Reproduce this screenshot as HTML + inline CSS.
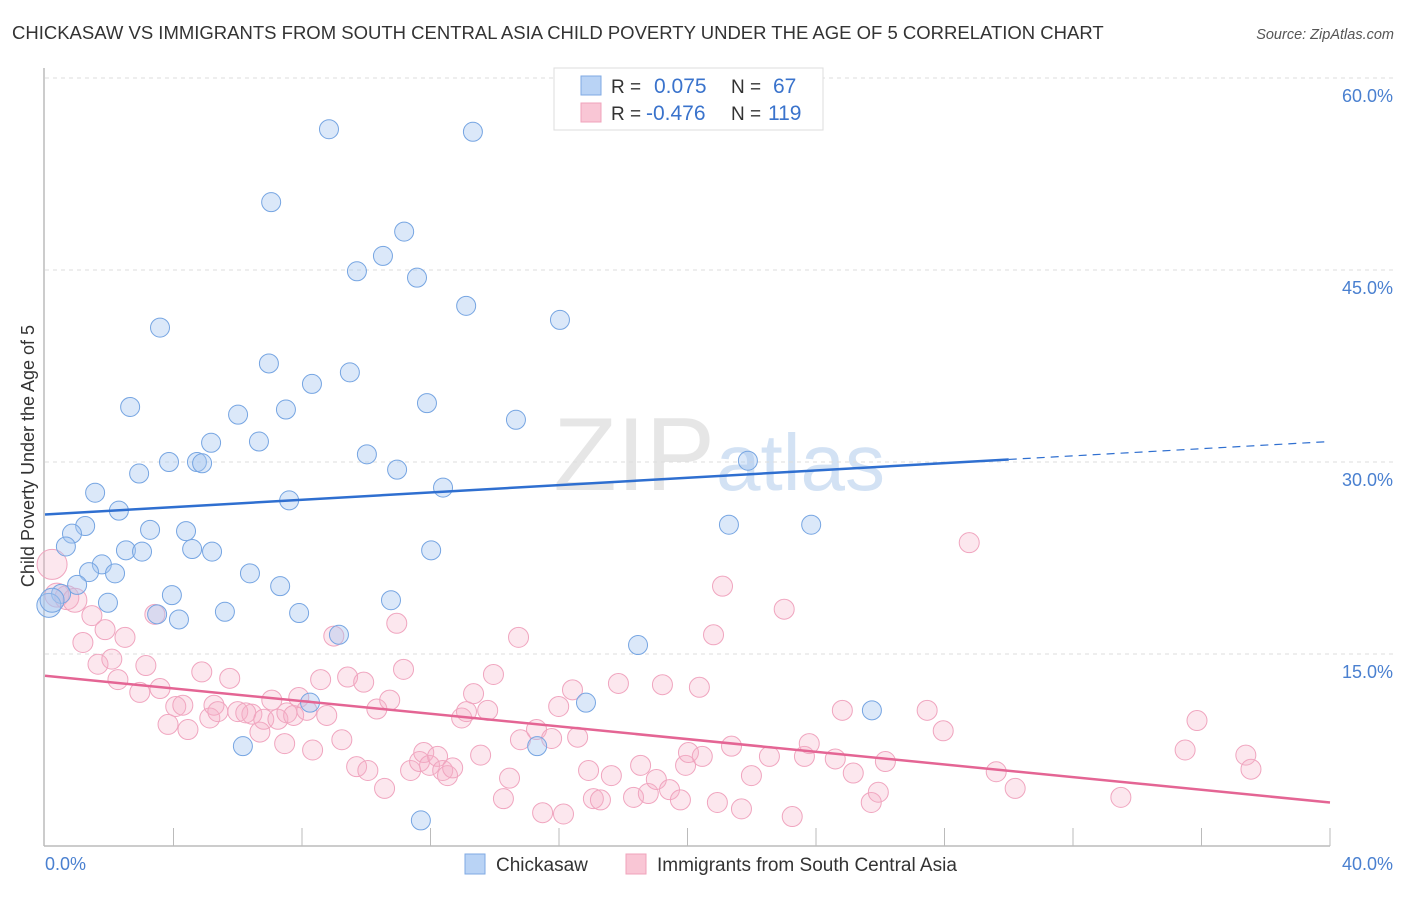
<!DOCTYPE html>
<html><head><meta charset="utf-8"><style>
body{margin:0;background:#fff;font-family:"Liberation Sans",sans-serif;}
svg text{font-family:"Liberation Sans",sans-serif;}
</style></head><body>
<svg id="c" width="1406" height="892" xmlns="http://www.w3.org/2000/svg">
<text x="12" y="39" font-size="18.5" fill="#333">CHICKASAW VS IMMIGRANTS FROM SOUTH CENTRAL ASIA CHILD POVERTY UNDER THE AGE OF 5 CORRELATION CHART</text>
<text x="1394" y="39" font-size="14.5" fill="#555" font-style="italic" text-anchor="end">Source: ZipAtlas.com</text>
<text x="715" y="490" font-size="104" fill="#e6e6e6" text-anchor="end" font-family="Liberation Serif">ZIP</text>
<text x="716" y="490" font-size="80" fill="#d3e2f4">atlas</text>
<g id="grid"></g>
<g id="axes"></g>
<g id="pts"></g>
<g id="trend"></g>
<text transform="translate(34,456) rotate(-90)" font-size="18" fill="#333" text-anchor="middle">Child Poverty Under the Age of 5</text>
<text x="45" y="870" font-size="18" fill="#4a80d0">0.0%</text>
<text x="1393" y="870" font-size="18" fill="#4a80d0" text-anchor="end">40.0%</text>
<g>
<rect x="554" y="68" width="269" height="62" fill="#fff" stroke="#ddd"/>
<rect x="581" y="76" width="20" height="19" fill="#b9d3f5" stroke="#7fa9e3"/>
<rect x="581" y="103" width="20" height="19" fill="#f9c6d5" stroke="#f0a3bb"/>
<text x="611" y="93" font-size="19" fill="#333">R =</text><text x="654" y="93" font-size="21" fill="#3a73cc">0.075</text>
<text x="731" y="93" font-size="19" fill="#333">N =</text><text x="773" y="93" font-size="21" fill="#3a73cc">67</text>
<text x="611" y="120" font-size="19" fill="#333">R =</text><text x="646" y="120" font-size="21" fill="#3a73cc">-0.476</text>
<text x="731" y="120" font-size="19" fill="#333">N =</text><text x="768" y="120" font-size="21" fill="#3a73cc">119</text>
</g>
<g><rect x="465" y="854" width="20" height="20" fill="#b9d3f5" stroke="#7fa9e3"/><text x="496" y="871" font-size="19" fill="#333">Chickasaw</text></g>
<g><rect x="626" y="854" width="20" height="20" fill="#f9c6d5" stroke="#f0a3bb"/><text x="657" y="871" font-size="19" fill="#333">Immigrants from South Central Asia</text></g>
</svg>
<script>
const yTicks=[15,30,45,60];
const yTickLabels=["15.0%","30.0%","45.0%","60.0%"];
const xTicks=[4,8,12,16,20,24,28,32,36,40];
const blueX=[8.84,13.32,7.04,11.18,10.52,9.71,11.58,13.11,16.03,3.58,6.97,9.49,8.31,2.65,11.89,7.50,6.01,14.66,5.17,6.66,10.02,3.86,4.73,4.89,10.96,21.88,2.93,1.56,12.39,7.60,2.30,1.25,0.84,3.27,4.39,21.29,23.85,0.65,2.52,3.02,4.58,5.20,12.02,1.77,1.37,2.18,6.38,7.32,1.00,3.95,10.77,0.50,1.96,0.12,3.49,5.60,7.91,4.17,9.15,18.46,16.84,8.25,25.74,6.16,15.32,11.70,0.22];
const blueY=[56.0,55.8,50.3,48.0,46.1,44.9,44.4,42.2,41.1,40.5,37.7,37.0,36.1,34.3,34.6,34.1,33.7,33.3,31.5,31.6,30.6,30.0,30.0,29.9,29.4,30.1,29.1,27.6,28.0,27.0,26.2,25.0,24.4,24.7,24.6,25.1,25.1,23.4,23.1,23.0,23.2,23.0,23.1,22.0,21.4,21.3,21.3,20.3,20.4,19.6,19.2,19.7,19.0,18.8,18.1,18.3,18.2,17.7,16.5,15.7,11.2,11.2,10.6,7.8,7.8,2.0,19.2];
const pinkX=[0.22,0.37,0.68,0.93,1.46,1.87,1.18,2.49,1.65,2.08,3.14,2.27,2.95,3.58,3.42,3.83,4.07,4.29,4.45,4.88,5.13,5.26,5.38,5.75,6.00,6.44,6.25,6.69,6.81,7.06,7.25,7.53,7.74,7.90,8.15,8.33,7.46,8.77,8.58,8.99,9.24,9.42,9.92,9.70,10.05,10.33,10.57,10.73,10.95,11.16,11.38,11.66,11.79,11.97,12.22,12.38,12.53,12.69,12.97,13.12,13.34,13.56,13.78,13.96,14.27,14.46,14.74,14.80,15.30,15.49,15.77,15.99,16.14,16.42,16.58,16.92,17.07,17.29,17.63,17.85,18.32,18.54,18.78,19.03,19.22,19.44,19.78,19.94,20.03,20.37,20.46,20.81,20.93,21.09,21.37,21.68,21.99,22.55,23.01,23.26,23.64,23.79,24.60,24.82,25.16,25.72,25.94,26.16,27.46,27.96,28.77,29.61,30.20,33.49,35.49,35.86,37.38,37.54];
const pinkY=[22.0,19.6,19.4,19.2,18.0,16.9,15.9,16.3,14.2,14.6,14.1,13.0,12.0,12.3,18.1,9.5,10.9,11.0,9.1,13.6,10.0,11.0,10.5,13.1,10.5,10.3,10.4,8.9,9.9,11.4,9.9,10.4,10.2,11.6,10.6,7.5,8.0,10.2,13.0,16.4,8.3,13.2,12.8,6.2,5.9,10.7,4.5,11.4,17.4,13.8,5.9,6.6,7.3,6.3,7.0,5.9,5.5,6.1,10.0,10.5,11.9,7.1,10.6,13.4,3.7,5.3,16.3,8.3,9.1,2.6,8.4,10.9,2.5,12.2,8.5,5.9,3.7,3.6,5.5,12.7,3.8,6.3,4.1,5.2,12.6,4.4,3.6,6.3,7.3,12.4,7.0,16.5,3.4,20.3,7.8,2.9,5.5,7.0,18.5,2.3,7.0,8.0,6.8,10.6,5.7,3.4,4.2,6.6,10.6,9.0,23.7,5.8,4.5,3.8,7.5,9.8,7.1,6.0];
const blueTrend=[25.9,30.2,31.6];
const pinkTrend=[13.3,3.4];
const NS="http://www.w3.org/2000/svg";
const X=v=>45+v*(1285/40);
const Y=v=>846-v*12.8;
function mk(t,a,p){const e=document.createElementNS(NS,t);for(const k in a)e.setAttribute(k,a[k]);p.appendChild(e);return e;}
const grid=document.getElementById('grid'),axes=document.getElementById('axes'),pts=document.getElementById('pts'),trend=document.getElementById('trend');
yTicks.forEach((t,i)=>{
 const l=mk('line',{x1:45,x2:1393,y1:Y(t),y2:Y(t),stroke:'#ddd','stroke-dasharray':'4,4'},grid);
 
 
 const tx=mk('text',{x:1393,y:Y(t)+24,'font-size':18,fill:'#4a80d0','text-anchor':'end'},grid);
 tx.textContent=yTickLabels[i];
 
 
});
const ya=mk('line',{x1:44,x2:44,y1:68,y2:846,stroke:'#bbb','stroke-width':1.5},axes);


const xa=mk('line',{x1:44,x2:1330,y1:846,y2:846,stroke:'#bbb','stroke-width':1.5},axes);


xTicks.forEach(t=>{
 const k=mk('line',{x1:X(t),x2:X(t),y1:828,y2:846,stroke:'#bbb'},axes);
 
 
});
pinkX.forEach((x,i)=>{
 const c=mk('circle',{cx:X(x),cy:Y(pinkY[i]),r:i===0?15:(i<4?12:10),fill:'rgba(246,175,200,0.3)',stroke:'#f0a5bf','stroke-width':1},pts);
 
 
});
blueX.forEach((x,i)=>{
 const c=mk('circle',{cx:X(x),cy:Y(blueY[i]),r:i>=blueX.length-1||i===53?12:9.5,fill:'rgba(165,198,240,0.4)',stroke:'#76a5e2','stroke-width':1},pts);
 
 
});
const bt=mk('line',{x1:X(0),y1:Y(blueTrend[0]),x2:X(30),y2:Y(blueTrend[1]),stroke:'#2f6fd0','stroke-width':2.5},trend);


const bd=mk('line',{x1:X(30),y1:Y(blueTrend[1]),x2:X(40),y2:Y(blueTrend[2]),stroke:'#2f6fd0','stroke-width':1.2,'stroke-dasharray':'8,6'},trend);


const pt=mk('line',{x1:X(0),y1:Y(pinkTrend[0]),x2:X(40),y2:Y(pinkTrend[1]),stroke:'#e46594','stroke-width':2.5},trend);


</script>
</body></html>
